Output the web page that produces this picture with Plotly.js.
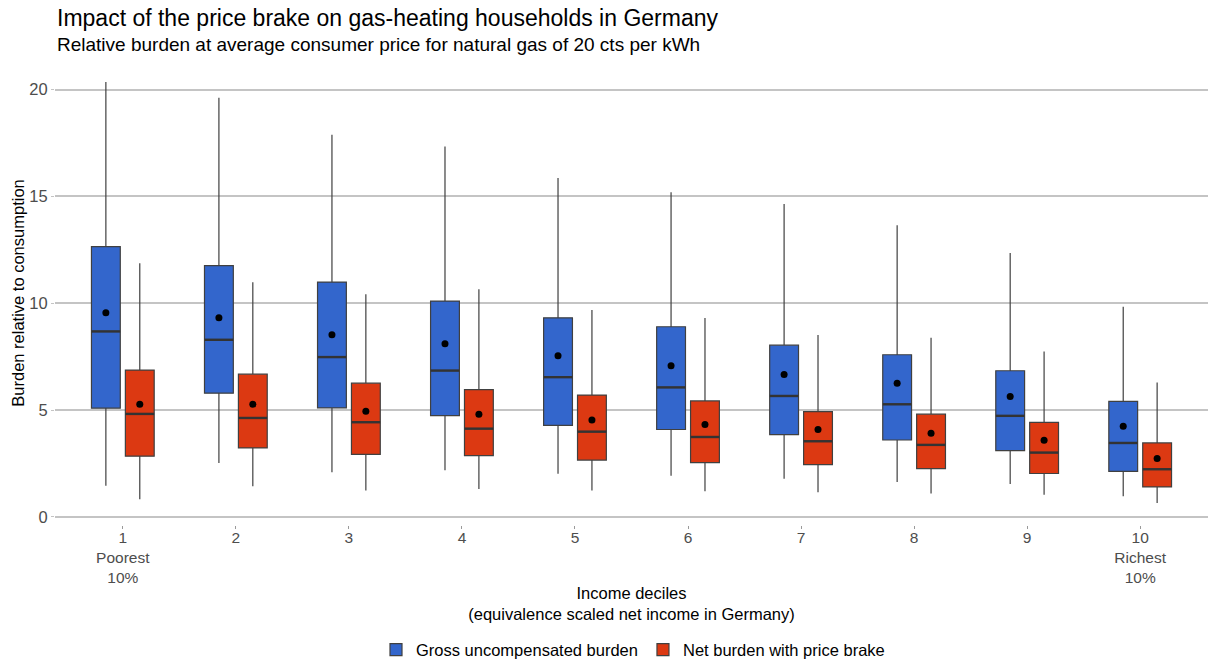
<!DOCTYPE html>
<html><head><meta charset="utf-8">
<script src="https://cdn.plot.ly/plotly-3.0.1.min.js"></script>
<style>html,body{margin:0;padding:0;background:#fff}#chart{width:1208px;height:662px}</style>
</head><body><div id="chart"></div>
<script>
const deciles = ['1','2','3','4','5','6','7','8','9','10'];
const tickLabels = ['1<br>Poorest<br>10%','2','3','4','5','6','7','8','9','10<br>Richest<br>10%'];

const grossUpper  = [20.36, 19.62, 17.89, 17.34, 15.86, 15.20, 14.65, 13.65, 12.35, 9.84];
const grossQ3     = [12.65, 11.76, 10.99, 10.10, 9.32, 8.90, 8.04, 7.59, 6.84, 5.41];
const grossMedian = [8.68, 8.29, 7.48, 6.85, 6.54, 6.06, 5.66, 5.27, 4.73, 3.46];
const grossQ1     = [5.09, 5.79, 5.10, 4.74, 4.28, 4.09, 3.85, 3.60, 3.10, 2.13];
const grossLower  = [1.46, 2.52, 2.09, 2.18, 2.02, 1.93, 1.79, 1.63, 1.54, 0.96];
const grossMean   = [9.55, 9.32, 8.52, 8.10, 7.54, 7.07, 6.67, 6.26, 5.63, 4.24];

const netUpper  = [11.87, 10.98, 10.42, 10.65, 9.68, 9.31, 8.51, 8.38, 7.74, 6.29];
const netQ3     = [6.87, 6.68, 6.26, 5.96, 5.70, 5.43, 4.93, 4.81, 4.42, 3.46];
const netMedian = [4.82, 4.63, 4.43, 4.13, 3.99, 3.74, 3.54, 3.37, 3.01, 2.23];
const netQ1     = [2.84, 3.23, 2.93, 2.87, 2.66, 2.54, 2.45, 2.26, 2.03, 1.40];
const netLower  = [0.83, 1.43, 1.24, 1.30, 1.24, 1.20, 1.15, 1.09, 1.04, 0.65];
const netMean   = [5.27, 5.27, 4.95, 4.81, 4.54, 4.32, 4.09, 3.91, 3.59, 2.73];

const seriesNames = ['Gross uncompensated burden', 'Net burden with price brake'];
const seriesColors = ['#3366CC', '#DC3912'];

const FONT = 'Liberation Sans, Arial, sans-serif';
const outline = {color: '#404040', width: 1.2};

function boxTrace(name, group, color, lo, q1, med, q3, up) {
  return {
    type: 'box', name: name, x: deciles,
    lowerfence: lo, q1: q1, median: med, q3: q3, upperfence: up,
    alignmentgroup: 'all', offsetgroup: group,
    fillcolor: color, line: outline, whiskerwidth: 0,
    boxpoints: false, hoverinfo: 'y'
  };
}
function medianTrace(name, group, vals) {
  return {
    type: 'scatter', mode: 'markers', x: deciles, y: vals, name: name + ' (median)',
    orientation: 'v', alignmentgroup: 'all', offsetgroup: group, showlegend: false, hoverinfo: 'skip',
    marker: {symbol: 'line-ew', size: 20.5, color: '#333333', line: {color: '#333333', width: 2.4}}
  };
}
function meanTrace(name, group, vals) {
  return {
    type: 'scatter', mode: 'markers', x: deciles, y: vals, name: name + ' (mean)',
    orientation: 'v', alignmentgroup: 'all', offsetgroup: group, showlegend: false, hoverinfo: 'y',
    marker: {color: '#000000', size: 7}
  };
}

const data = [
  boxTrace(seriesNames[0], 'gross', seriesColors[0], grossLower, grossQ1, grossMedian, grossQ3, grossUpper),
  boxTrace(seriesNames[1], 'net', seriesColors[1], netLower, netQ1, netMedian, netQ3, netUpper),
  medianTrace(seriesNames[0], 'gross', grossMedian),
  medianTrace(seriesNames[1], 'net', netMedian),
  meanTrace(seriesNames[0], 'gross', grossMean),
  meanTrace(seriesNames[1], 'net', netMean)
];

const layout = {
  width: 1208, height: 662,
  paper_bgcolor: '#ffffff', plot_bgcolor: '#ffffff',
  font: {family: FONT, size: 16.5, color: '#4d4d4d'},
  margin: {l: 55, r: 0, t: 61, b: 137},
  title: {
    text: 'Impact of the price brake on gas-heating households in Germany',
    font: {family: FONT, size: 23, color: '#000000'},
    xref: 'container', x: 57/1208, xanchor: 'left',
    yref: 'container', y: 1 - 18/662, yanchor: 'middle'
  },
  annotations: [{
    text: 'Relative burden at average consumer price for natural gas of 20 cts per kWh',
    xref: 'paper', x: 0, xanchor: 'left',
    yref: 'paper', y: 1 + (61-45)/464, yanchor: 'middle',
    showarrow: false, font: {family: FONT, size: 19, color: '#000000'}
  }],
  boxmode: 'group', boxgap: 0.4, boxgroupgap: 0.15,
  scattermode: 'group', scattergap: 0.4,
  showlegend: true,
  legend: {
    orientation: 'h', xref: 'container', x: 633/1208, xanchor: 'center',
    yref: 'container', y: 12/662, yanchor: 'middle',
    font: {family: FONT, size: 16.5, color: '#000000'}
  },
  xaxis: {
    type: 'category', range: [-0.6, 9.6],
    tickvals: deciles, ticktext: tickLabels,
    showgrid: false, zeroline: false, showline: false,
    ticks: 'outside', ticklen: 3, tickcolor: '#9a9a9a', tickwidth: 1,
    ticklabelstandoff: -5,
    tickfont: {family: FONT, size: 15.5, color: '#4d4d4d'},
    title: {text: 'Income deciles<br>(equivalence scaled net income in Germany)',
            font: {family: FONT, size: 16.5, color: '#000000'}, standoff: 2}
  },
  yaxis: {
    range: [-0.38, 21.34], tickvals: [0, 5, 10, 15, 20],
    showgrid: true, gridcolor: '#c4c4c4', gridwidth: 1.5,
    zeroline: false, showline: false,
    ticks: 'outside', ticklen: 3, tickcolor: '#c4c4c4', tickwidth: 1,
    tickfont: {family: FONT, size: 16.5, color: '#4d4d4d'},
    title: {text: 'Burden relative to consumption',
            font: {family: FONT, size: 16.5, color: '#000000'}, standoff: 0}
  }
};

Plotly.newPlot('chart', data, layout, {displayModeBar: false, responsive: false});
</script>
</body></html>
